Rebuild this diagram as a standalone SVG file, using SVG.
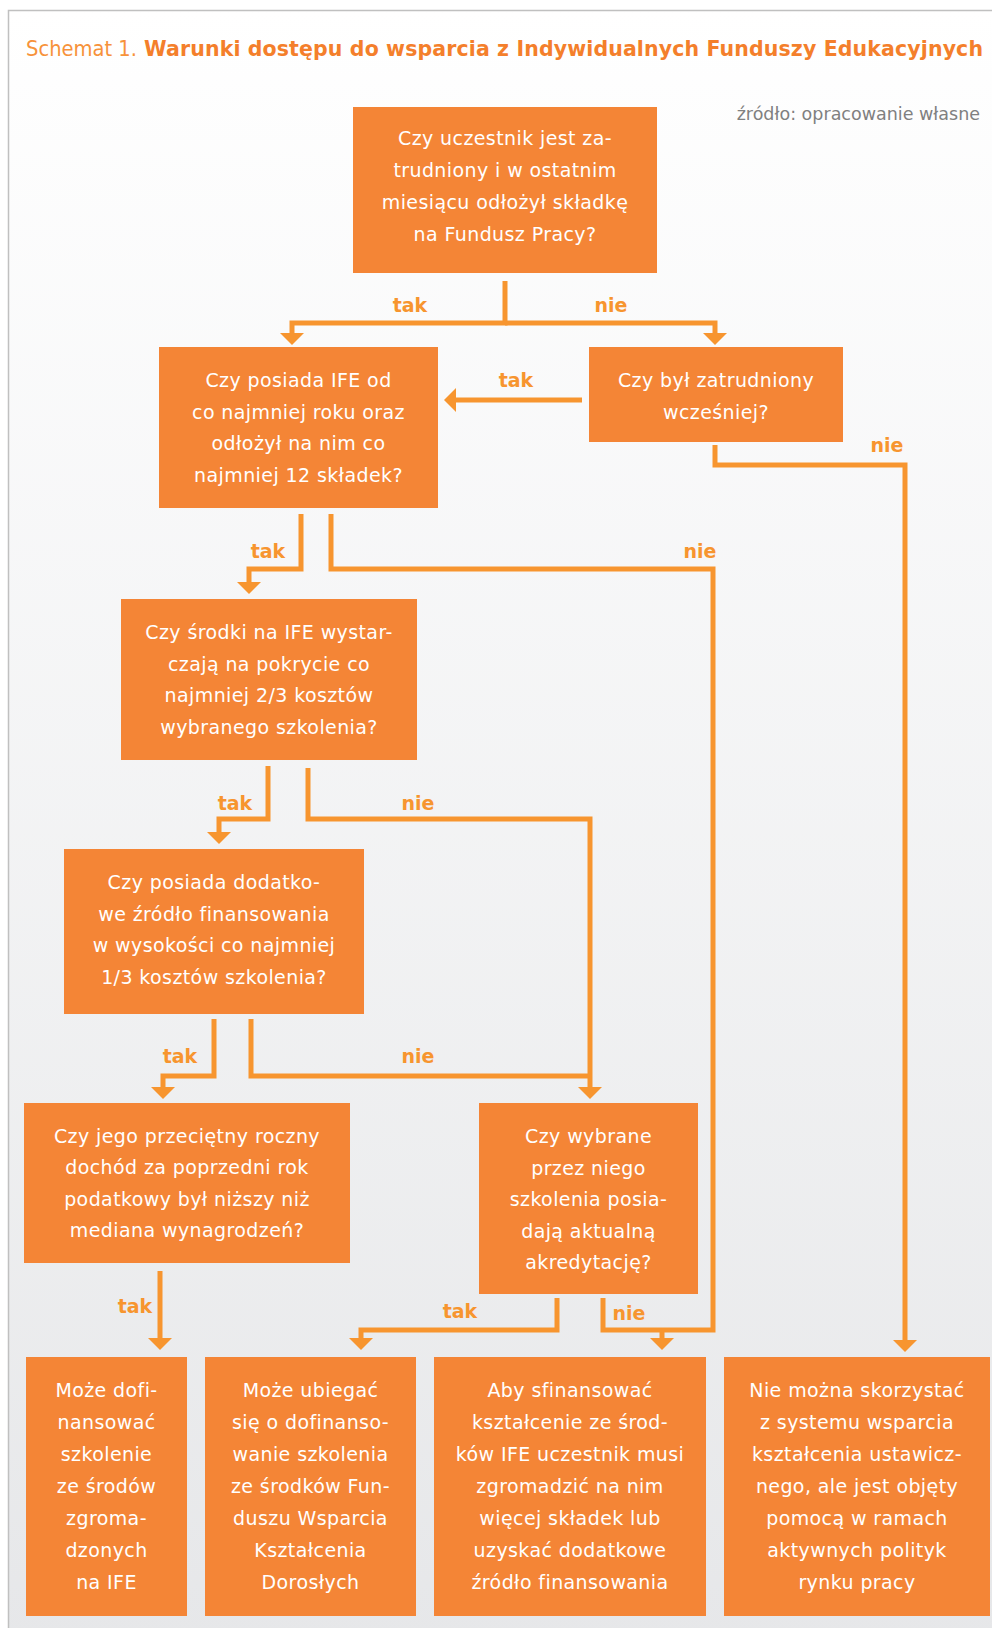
<svg xmlns="http://www.w3.org/2000/svg" width="992" height="1628" viewBox="0 0 992 1628">
<defs>
<linearGradient id="bg" x1="0" y1="0" x2="0" y2="1">
<stop offset="0" stop-color="#ffffff"/>
<stop offset="1" stop-color="#e6e7e9"/>
</linearGradient>
<marker id="ah" viewBox="0 0 12 24" refX="0" refY="12" markerWidth="12" markerHeight="24" markerUnits="userSpaceOnUse" orient="auto">
<path d="M0 0 L12 12 L0 24 Z" fill="#f7952f"/>
</marker>
<style>
.box{fill:#f48536}
.t{font-family:"DejaVu Sans",sans-serif;font-size:19px;fill:#ffffff;text-anchor:middle;letter-spacing:0.4px}
.lbl{font-family:"DejaVu Sans",sans-serif;font-size:19px;font-weight:bold;fill:#f7952f;text-anchor:middle}
.c{fill:none;stroke:#f7952f;stroke-width:5;stroke-linejoin:miter}
.a{marker-end:url(#ah)}
</style>
</defs>
<rect x="0" y="0" width="992" height="1628" fill="#ffffff"/>
<rect x="8.5" y="10.5" width="1000" height="1640" fill="url(#bg)" stroke="#c0c0c0" stroke-width="1.5"/>
<text x="26" y="56" font-family="DejaVu Sans, sans-serif" font-size="20.5" fill="#f7923a" textLength="111" lengthAdjust="spacingAndGlyphs">Schemat 1.</text>
<text x="144" y="56" font-family="DejaVu Sans, sans-serif" font-size="20.5" font-weight="bold" fill="#f47f2b" textLength="839" lengthAdjust="spacing">Warunki dostępu do wsparcia z Indywidualnych Funduszy Edukacyjnych</text>
<text x="980" y="120" font-family="DejaVu Sans, sans-serif" font-size="17.5" fill="#808080" text-anchor="end">źródło: opracowanie własne</text>

<g id="connectors">
<path class="c a" d="M505 281 V323 H292 V333"/>
<path class="c a" d="M505 323 H715 V333"/>
<path class="c a" d="M582 400 H456"/>
<path class="c a" d="M715 445 V465 H905 V1340"/>
<path class="c a" d="M301 514 V569 H249 V582"/>
<path class="c" d="M331 514 V569 H713 V1330 H603 V1298"/>
<path class="c a" d="M662 1330 V1338"/>
<path class="c a" d="M268 766 V819 H219 V832"/>
<path class="c a" d="M308 768 V819 H590 V1087"/>
<path class="c a" d="M214 1019 V1076 H163 V1087"/>
<path class="c" d="M251 1019 V1076 H590"/>
<path class="c a" d="M160 1271 V1338"/>
<path class="c a" d="M557 1298 V1330 H361 V1338"/>
<text class="lbl" x="410" y="312">tak</text>
<text class="lbl" x="611" y="312">nie</text>
<text class="lbl" x="516" y="387">tak</text>
<text class="lbl" x="887" y="452">nie</text>
<text class="lbl" x="268" y="558">tak</text>
<text class="lbl" x="700" y="558">nie</text>
<text class="lbl" x="235" y="810">tak</text>
<text class="lbl" x="418" y="810">nie</text>
<text class="lbl" x="180" y="1063">tak</text>
<text class="lbl" x="418" y="1063">nie</text>
<text class="lbl" x="135" y="1313">tak</text>
<text class="lbl" x="460" y="1318">tak</text>
<text class="lbl" x="629" y="1320">nie</text>
</g>

<g id="n1">
<rect class="box" x="353" y="107" width="304" height="166"/>
<text class="t" x="505" y="145">Czy uczestnik jest za-</text>
<text class="t" x="505" y="177">trudniony i w ostatnim</text>
<text class="t" x="505" y="209">miesiącu odłożył składkę</text>
<text class="t" x="505" y="241">na Fundusz Pracy?</text>
</g>
<g id="n2">
<rect class="box" x="159" y="347" width="279" height="161"/>
<text class="t" x="298.5" y="387">Czy posiada IFE od</text>
<text class="t" x="298.5" y="418.7">co najmniej roku oraz</text>
<text class="t" x="298.5" y="450.3">odłożył na nim co</text>
<text class="t" x="298.5" y="482">najmniej 12 składek?</text>
</g>
<g id="n3">
<rect class="box" x="589" y="347" width="254" height="95"/>
<text class="t" x="716" y="387">Czy był zatrudniony</text>
<text class="t" x="716" y="419">wcześniej?</text>
</g>
<g id="n4">
<rect class="box" x="121" y="599" width="296" height="161"/>
<text class="t" x="269" y="639">Czy środki na IFE wystar-</text>
<text class="t" x="269" y="670.7">czają na pokrycie co</text>
<text class="t" x="269" y="702.3">najmniej 2/3 kosztów</text>
<text class="t" x="269" y="734">wybranego szkolenia?</text>
</g>
<g id="n5">
<rect class="box" x="64" y="849" width="300" height="165"/>
<text class="t" x="214" y="889">Czy posiada dodatko-</text>
<text class="t" x="214" y="920.7">we źródło finansowania</text>
<text class="t" x="214" y="952.3">w wysokości co najmniej</text>
<text class="t" x="214" y="984">1/3 kosztów szkolenia?</text>
</g>
<g id="n6">
<rect class="box" x="24" y="1103" width="326" height="160"/>
<text class="t" x="187" y="1143">Czy jego przeciętny roczny</text>
<text class="t" x="187" y="1174.3">dochód za poprzedni rok</text>
<text class="t" x="187" y="1205.7">podatkowy był niższy niż</text>
<text class="t" x="187" y="1237">mediana wynagrodzeń?</text>
</g>
<g id="n7">
<rect class="box" x="479" y="1103" width="219" height="191"/>
<text class="t" x="588.5" y="1143">Czy wybrane</text>
<text class="t" x="588.5" y="1174.5">przez niego</text>
<text class="t" x="588.5" y="1206">szkolenia posia-</text>
<text class="t" x="588.5" y="1237.5">dają aktualną</text>
<text class="t" x="588.5" y="1269">akredytację?</text>
</g>
<g id="b1">
<rect class="box" x="26" y="1357" width="161" height="259"/>
<text class="t" x="106.5" y="1397">Może dofi-</text>
<text class="t" x="106.5" y="1429">nansować</text>
<text class="t" x="106.5" y="1461">szkolenie</text>
<text class="t" x="106.5" y="1493">ze środów</text>
<text class="t" x="106.5" y="1524.5">zgroma-</text>
<text class="t" x="106.5" y="1556.5">dzonych</text>
<text class="t" x="106.5" y="1588.5">na IFE</text>
</g>
<g id="b2">
<rect class="box" x="205" y="1357" width="211" height="259"/>
<text class="t" x="310.5" y="1397">Może ubiegać</text>
<text class="t" x="310.5" y="1429">się o dofinanso-</text>
<text class="t" x="310.5" y="1461">wanie szkolenia</text>
<text class="t" x="310.5" y="1493">ze środków Fun-</text>
<text class="t" x="310.5" y="1524.5">duszu Wsparcia</text>
<text class="t" x="310.5" y="1556.5">Kształcenia</text>
<text class="t" x="310.5" y="1588.5">Dorosłych</text>
</g>
<g id="b3">
<rect class="box" x="434" y="1357" width="272" height="259"/>
<text class="t" x="570" y="1397">Aby sfinansować</text>
<text class="t" x="570" y="1429">kształcenie ze środ-</text>
<text class="t" x="570" y="1461">ków IFE uczestnik musi</text>
<text class="t" x="570" y="1493">zgromadzić na nim</text>
<text class="t" x="570" y="1524.5">więcej składek lub</text>
<text class="t" x="570" y="1556.5">uzyskać dodatkowe</text>
<text class="t" x="570" y="1588.5">źródło finansowania</text>
</g>
<g id="b4">
<rect class="box" x="724" y="1357" width="266" height="259"/>
<text class="t" x="857" y="1397">Nie można skorzystać</text>
<text class="t" x="857" y="1429">z systemu wsparcia</text>
<text class="t" x="857" y="1461">kształcenia ustawicz-</text>
<text class="t" x="857" y="1493">nego, ale jest objęty</text>
<text class="t" x="857" y="1524.5">pomocą w ramach</text>
<text class="t" x="857" y="1556.5">aktywnych polityk</text>
<text class="t" x="857" y="1588.5">rynku pracy</text>
</g>
</svg>
